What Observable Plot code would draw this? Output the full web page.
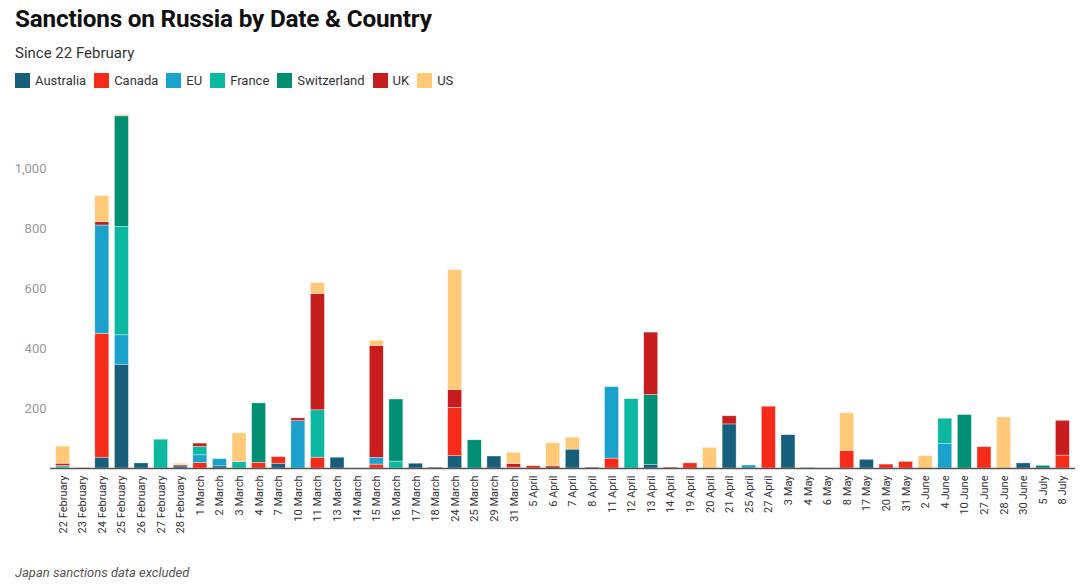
<!DOCTYPE html>
<html>
<head>
<meta charset="utf-8">
<script src="https://cdn.jsdelivr.net/npm/d3@7"></script>
<script src="https://cdn.jsdelivr.net/npm/@observablehq/plot@0.6"></script>
<style>
  html, body { margin: 0; padding: 0; background: #fff; }
  body { width: 1080px; height: 586px; overflow: hidden; font-family: Roboto, "Noto Sans", sans-serif; position: relative; }
  #title { position: absolute; left: 15px; top: 4px; font-size: 24.3px; font-weight: 700; color: #111; letter-spacing: -0.2px; }
  #subtitle { position: absolute; left: 15px; top: 44px; font-size: 15px; color: #333; }
  #legend { position: absolute; left: 15px; top: 73px; display: flex; font-size: 13px; color: #333; }
  #legend .item { display: flex; align-items: center; margin-right: 8px; }
  #legend .sw { width: 15px; height: 15px; margin-right: 5px; }
  #chart { position: absolute; left: 0; top: 100px; }
  #caption { position: absolute; left: 15px; top: 565px; font-size: 13px; font-style: italic; color: #555; }
</style>
</head>
<body>
<div id="title">Sanctions on Russia by Date &amp; Country</div>
<div id="subtitle">Since 22 February</div>
<div id="legend"></div>
<div id="chart"></div>
<div id="caption">Japan sanctions data excluded</div>
<script>
const dates = ["22 February","23 February","24 February","25 February","26 February","27 February","28 February",
  "1 March","2 March","3 March","4 March","7 March","10 March","11 March","13 March","14 March","15 March","16 March","17 March","18 March","24 March","25 March","29 March","31 March",
  "5 April","6 April","7 April","8 April","11 April","12 April","13 April","14 April","19 April","20 April","21 April","25 April","27 April",
  "3 May","4 May","6 May","8 May","17 May","20 May","31 May",
  "2 June","4 June","10 June","27 June","28 June","30 June","5 July","8 July"];

const countries = ["Australia","Canada","EU","France","Switzerland","UK","US"];
const colors = ["#175e7a","#f62a19","#1aa1cc","#0cb9a0","#008f73","#c81d1f","#ffc978"];

const australia   = [0,0,36,346,17,0,7,0,7,0, 0,16,0,0,36,0,0,0,16,3, 41,0,40,0,0,0,63,0,0,0, 11,0,0,0,147,0,0,111,0,0, 0,29,0,0,0,0,0,0,0,17, 0,0];
const canada      = [0,0,413,0,0,0,0,18,0,0, 19,22,0,36,0,0,13,0,0,0, 161,0,0,3,8,0,0,0,33,0, 0,0,17,0,0,0,206,0,0,0, 59,0,13,22,0,0,0,71,0,0, 0,43];
const eu          = [0,0,361,98,0,0,0,26,24,0, 0,0,158,0,0,0,22,0,0,0, 0,0,0,0,0,0,0,0,238,0, 0,0,0,0,0,10,0,0,0,0, 0,0,0,0,0,81,0,0,0,0, 0,0];
const france      = [4,0,0,361,0,96,0,28,0,22, 0,0,0,158,0,0,0,23,0,0, 0,0,0,0,0,0,0,0,0,231, 0,0,0,0,0,0,0,0,0,0, 0,0,0,0,0,85,0,0,0,0, 0,0];
const switzerland = [4,0,0,369,0,0,0,0,0,0, 198,0,0,0,0,0,0,207,0,0, 0,94,0,0,0,0,0,0,0,0, 234,0,0,0,0,0,0,0,2,0, 0,0,0,0,0,0,178,0,0,0, 9,0];
const uk          = [8,0,11,2,0,0,4,11,0,0, 0,0,9,387,0,0,374,0,0,0, 60,0,0,12,0,7,0,3,0,0, 208,3,0,0,27,0,0,0,0,0, 0,0,0,0,0,0,0,0,0,0, 0,116];
const us          = [57,3,87,3,0,0,5,0,0,95, 0,0,0,37,0,0,17,0,0,0, 399,0,0,37,2,77,40,0,0,0, 0,0,0,69,0,0,0,0,0,0, 125,0,0,0,41,0,0,0,170,0, 0,0];

const yTicks = [200, 400, 600, 800, 1000];

const seriesValues = [australia, canada, eu, france, switzerland, uk, us];
const rows = [];
dates.forEach((d, i) => {
  countries.forEach((c, j) => {
    rows.push({date: d, country: c, value: seriesValues[j][i]});
  });
});

// legend
const legend = document.getElementById("legend");
countries.forEach((c, j) => {
  const it = document.createElement("div");
  it.className = "item";
  it.innerHTML = `<span class="sw" style="background:${colors[j]}"></span><span>${c}</span>`;
  legend.appendChild(it);
});

const chart = Plot.plot({
  width: 1080,
  height: 460,
  marginTop: 8,
  marginLeft: 50,
  marginRight: 5,
  marginBottom: 92,
  style: {fontFamily: "Roboto, 'Noto Sans', sans-serif", background: "#fff"},
  x: {domain: dates, padding: 0.286, label: null, tickSize: 0, tickPadding: 7, tickRotate: -90},
  y: {domain: [0, 1200], label: null, ticks: yTicks, tickFormat: d3.format(","), tickSize: 0, tickPadding: 4},
  color: {domain: countries, range: colors},
  marks: [
    Plot.gridY(yTicks, {stroke: "#e6e6e6", strokeOpacity: 1, x1: 50, x2: 1075}),
    Plot.barY(rows, Plot.stackY({
      x: "date", y: "value", fill: "country", order: countries,
      stroke: "#fff", strokeWidth: 0.6, strokeOpacity: 0.6
    })),
    Plot.ruleY([0], {stroke: "#555", strokeWidth: 1.5}),
    Plot.axisX({tickSize: 0, tickPadding: 7, tickRotate: -90, fontSize: 11, fill: "#333", label: null}),
    Plot.axisY(yTicks, {tickSize: 0, tickPadding: 4, fontSize: 13, fill: "#999", tickFormat: d3.format(","), label: null})
  ]
});
document.getElementById("chart").appendChild(chart);
</script>
</body>
</html>
